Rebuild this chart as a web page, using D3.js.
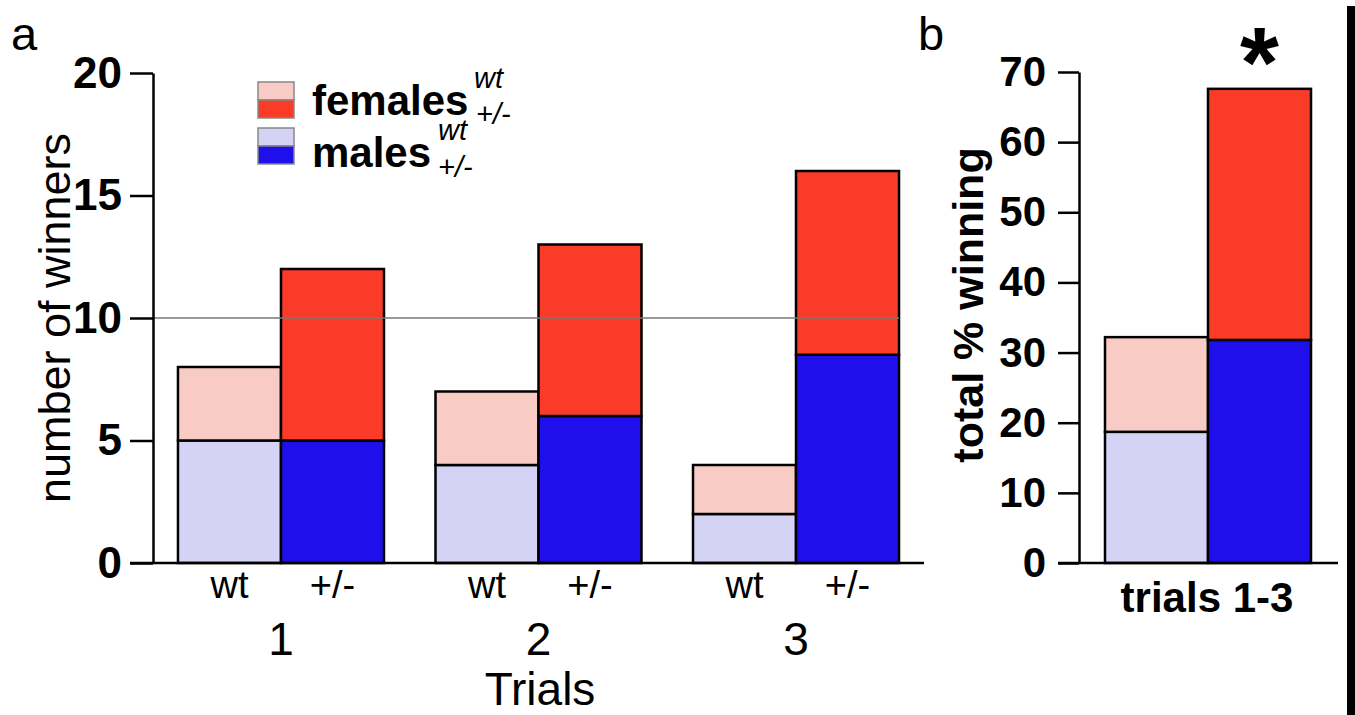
<!DOCTYPE html>
<html>
<head>
<meta charset="utf-8">
<script src="https://cdn.jsdelivr.net/npm/d3@7"></script>
<style>
  body { margin: 0; background: #fff; }
  svg { display: block; font-family: "Liberation Sans", Arial, Helvetica, sans-serif; }
</style>
</head>
<body>
<svg id="chart" width="1355" height="715"></svg>
<script>
// Panel a data: number of winners per trial
const trials = ["1", "2", "3"];
const genotypes = ["wt", "+/-"];
const malesWinners = [[5, 5], [4, 6], [2, 8.5]];
const femalesWinners = [[3, 7], [3, 7], [2, 7.5]];
const winnerTicks = [0, 5, 10, 15, 20];

// Panel b data: total % winning over trials 1-3
const malesPct = [18.7, 31.8];
const femalesPct = [13.5, 35.8];
const pctTicks = [0, 10, 20, 30, 40, 50, 60, 70];

const colors = {
  femaleWt: "#f8ccc5",
  femaleHet: "#fa3b27",
  maleWt: "#d4d3f6",
  maleHet: "#1f0fea"
};

const svg = d3.select("#chart");

// ---------- Panel a ----------
const yA = d3.scaleLinear().domain([0, 20]).range([563, 73]);
const xA = d3.scaleBand().domain(trials).range([153, 924]).paddingInner(0.2).paddingOuter(0.097);
const xSubA = d3.scaleBand().domain(genotypes).range([0, xA.bandwidth()]);

const gA = svg.append("g");

const barsA = [];
trials.forEach((t, i) => {
  genotypes.forEach((g, j) => {
    barsA.push({ trial: t, geno: g, male: malesWinners[i][j], female: femalesWinners[i][j] });
  });
});

const groupA = gA.selectAll(".barA")
  .data(barsA)
  .enter().append("g")
  .attr("class", "barA")
  .attr("transform", d => `translate(${xA(d.trial) + xSubA(d.geno)},0)`);

groupA.append("rect")
  .attr("y", d => yA(d.male))
  .attr("width", xSubA.bandwidth())
  .attr("height", d => yA(0) - yA(d.male))
  .attr("fill", d => d.geno === "wt" ? colors.maleWt : colors.maleHet)
  .attr("stroke", "#000").attr("stroke-width", 2.5);

groupA.append("rect")
  .attr("y", d => yA(d.male + d.female))
  .attr("width", xSubA.bandwidth())
  .attr("height", d => yA(d.male) - yA(d.male + d.female))
  .attr("fill", d => d.geno === "wt" ? colors.femaleWt : colors.femaleHet)
  .attr("stroke", "#000").attr("stroke-width", 2.5);

// reference line at 10
gA.append("line")
  .attr("x1", 153).attr("x2", xA("3") + xA.bandwidth())
  .attr("y1", yA(10)).attr("y2", yA(10))
  .attr("stroke", "#777").attr("stroke-width", 1.5);

// y axis
const axisA = gA.append("g")
  .attr("transform", "translate(153,0)")
  .call(d3.axisLeft(yA).tickValues(winnerTicks).tickSize(23).tickSizeOuter(0).tickPadding(8));
axisA.select(".domain").attr("stroke-width", 2.5);
axisA.selectAll(".tick line").attr("stroke-width", 2.5);
axisA.selectAll(".tick text")
  .attr("font-family", "Liberation Sans, Arial, sans-serif")
  .attr("font-size", 44).attr("font-weight", "bold").attr("fill", "#000");

// x axis line
gA.append("line")
  .attr("x1", 130).attr("x2", 924)
  .attr("y1", yA(0)).attr("y2", yA(0))
  .attr("stroke", "#000").attr("stroke-width", 2.5);

// genotype labels
gA.selectAll(".genoLabel")
  .data(barsA)
  .enter().append("text")
  .attr("x", d => xA(d.trial) + xSubA(d.geno) + xSubA.bandwidth() / 2)
  .attr("y", 598)
  .attr("text-anchor", "middle")
  .attr("font-size", 38)
  .text(d => d.geno);

// trial labels
gA.selectAll(".trialLabel")
  .data(trials)
  .enter().append("text")
  .attr("x", d => xA(d) + xA.bandwidth() / 2)
  .attr("y", 655)
  .attr("text-anchor", "middle")
  .attr("font-size", 46)
  .text(d => d);

gA.append("text")
  .attr("x", 540).attr("y", 705)
  .attr("text-anchor", "middle")
  .attr("font-size", 46)
  .text("Trials");

gA.append("text")
  .attr("transform", "translate(70,318) rotate(-90)")
  .attr("text-anchor", "middle")
  .attr("font-size", 45)
  .text("number of winners");

gA.append("text")
  .attr("x", 11).attr("y", 50)
  .attr("font-size", 47)
  .text("a");

// legend
const legend = gA.append("g");
const legendRows = [
  { label: "females", light: colors.femaleWt, dark: colors.femaleHet, y: 82, base: 115, supX: 474, supY: 88, subX: 476, subY: 124 },
  { label: "males", light: colors.maleWt, dark: colors.maleHet, y: 128, base: 167, supX: 438, supY: 140, subX: 438, subY: 177 }
];
legendRows.forEach(r => {
  legend.append("rect").attr("x", 258).attr("y", r.y).attr("width", 36).attr("height", 18)
    .attr("fill", r.light).attr("stroke", "#888").attr("stroke-width", 1.5);
  legend.append("rect").attr("x", 258).attr("y", r.y + 18).attr("width", 36).attr("height", 18)
    .attr("fill", r.dark).attr("stroke", "#888").attr("stroke-width", 1.5);
  legend.append("text").attr("x", 312).attr("y", r.base)
    .attr("font-size", 42).attr("font-weight", "bold").text(r.label);
  legend.append("text").attr("x", r.supX).attr("y", r.supY)
    .attr("font-size", 29).attr("font-style", "italic").text("wt");
  legend.append("text").attr("x", r.subX).attr("y", r.subY)
    .attr("font-size", 29).attr("font-style", "italic").text("+/-");
});

// ---------- Panel b ----------
const yB = d3.scaleLinear().domain([0, 70]).range([563, 72]);
const xB = d3.scaleBand().domain(genotypes).range([1105, 1311]);

const gB = svg.append("g");

const barsB = genotypes.map((g, j) => ({ geno: g, male: malesPct[j], female: femalesPct[j] }));

const groupB = gB.selectAll(".barB")
  .data(barsB)
  .enter().append("g")
  .attr("transform", d => `translate(${xB(d.geno)},0)`);

groupB.append("rect")
  .attr("y", d => yB(d.male))
  .attr("width", xB.bandwidth())
  .attr("height", d => yB(0) - yB(d.male))
  .attr("fill", d => d.geno === "wt" ? colors.maleWt : colors.maleHet)
  .attr("stroke", "#000").attr("stroke-width", 2.5);

groupB.append("rect")
  .attr("y", d => yB(d.male + d.female))
  .attr("width", xB.bandwidth())
  .attr("height", d => yB(d.male) - yB(d.male + d.female))
  .attr("fill", d => d.geno === "wt" ? colors.femaleWt : colors.femaleHet)
  .attr("stroke", "#000").attr("stroke-width", 2.5);

const axisB = gB.append("g")
  .attr("transform", "translate(1079,0)")
  .call(d3.axisLeft(yB).tickValues(pctTicks).tickSize(21).tickSizeOuter(0).tickPadding(12));
axisB.select(".domain").attr("stroke-width", 2.5);
axisB.selectAll(".tick line").attr("stroke-width", 2.5);
axisB.selectAll(".tick text")
  .attr("font-family", "Liberation Sans, Arial, sans-serif")
  .attr("font-size", 42).attr("font-weight", "bold").attr("fill", "#000");

gB.append("line")
  .attr("x1", 1058).attr("x2", 1338)
  .attr("y1", yB(0)).attr("y2", yB(0))
  .attr("stroke", "#000").attr("stroke-width", 2.5);

gB.append("text")
  .attr("x", 1207).attr("y", 612)
  .attr("text-anchor", "middle")
  .attr("font-size", 42).attr("font-weight", "bold")
  .text("trials 1-3");

gB.append("text")
  .attr("transform", "translate(983,305) rotate(-90)")
  .attr("text-anchor", "middle")
  .attr("font-size", 43).attr("font-weight", "bold")
  .text("total % winning");

gB.append("text")
  .attr("x", 918).attr("y", 50)
  .attr("font-size", 47)
  .text("b");

// significance marker
gB.append("text")
  .attr("x", xB("+/-") + xB.bandwidth() / 2).attr("y", 97)
  .attr("text-anchor", "middle")
  .attr("font-size", 100).attr("font-weight", "bold")
  .text("*");

// right edge border
svg.append("rect")
  .attr("x", 1347).attr("y", 6)
  .attr("width", 8).attr("height", 709)
  .attr("fill", "#000");
</script>
</body>
</html>
